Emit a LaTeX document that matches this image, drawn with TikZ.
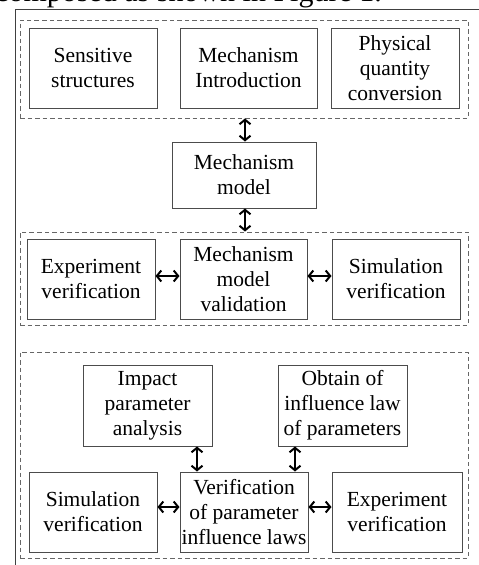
\documentclass[tikz,border=0pt]{standalone}
\usepackage{fontspec}
\setmainfont{Liberation Serif}
\usetikzlibrary{arrows.meta}
\begin{document}
\begin{tikzpicture}[x=1pt,y=-1pt,
  box/.style={draw=black!70, line width=1pt, align=center, inner sep=0pt,
    font=\fontsize{21.5}{25}\selectfont},
  group/.style={draw=black!60, dash pattern=on 4.5pt off 3pt, line width=0.9pt, inner sep=0pt},
  link/.style={line width=2pt, {Straight Barb[length=4.5pt,width=11pt]}-{Straight Barb[length=4.5pt,width=11pt]}},
  frame/.style={draw=black!75, line width=1pt}]
\useasboundingbox (0,0) rectangle (479,565);
\clip (0,0) rectangle (479,565);
% cropped caption line
\node[anchor=south west, inner sep=0pt, font=\fontsize{30}{32}\selectfont] (cap) at (-5,11.5) {\strut composed as shown in Figure 1.};
% outer frame
\coordinate (fa) at (15,565);
\coordinate (fb) at (15,9);
\coordinate (fc) at (479,9);
\draw[frame] (fa) -- (fb) -- (fc);
% group 1
\node[group, minimum width=448, minimum height=98] (g1) at (244,69) {};
\node[box, minimum width=128, minimum height=80] (sens) at (93,68) {Sensitive\\structures};
\node[box, minimum width=137, minimum height=80] (intro) at (248.5,68) {Mechanism\\Introduction};
\node[box, minimum width=128, minimum height=80] (phys) at (395,68) {Physical\\quantity\\conversion};
% mechanism model
\node[box, minimum width=144, minimum height=66] (mm) at (244,175) {Mechanism\\model};
% group 2
\node[group, minimum width=448, minimum height=93] (g2) at (244,278.5) {};
\node[box, minimum width=128, minimum height=80] (exp1) at (91,279) {Experiment\\verification};
\node[box, minimum width=127, minimum height=80] (mmv) at (243.5,279) {Mechanism\\model\\validation};
\node[box, minimum width=128, minimum height=80] (sim1) at (396,279) {Simulation\\verification};
% group 3
\node[group, minimum width=448, minimum height=206] (g3) at (244,455) {};
\node[box, minimum width=129, minimum height=81] (imp) at (147.5,405.5) {Impact\\parameter\\analysis};
\node[box, minimum width=129, minimum height=81] (obt) at (342.5,405.5) {Obtain of\\influence law\\of parameters};
\node[box, minimum width=128, minimum height=80] (sim2) at (93,512) {Simulation\\verification};
\node[box, minimum width=128, minimum height=80] (vpi) at (244,512) {Verification\\of parameter\\influence laws};
\node[box, minimum width=130, minimum height=80] (exp2) at (397,512) {Experiment\\verification};
% connectors
\draw[link] ([xshift=1pt]mm.north) -- ([xshift=1pt]mm.north |- g1.south);
\draw[link] ([xshift=1pt]mm.south) -- ([xshift=1pt]mm.south |- g2.north);
\draw[link] ([yshift=3pt]exp1.east) -- ([yshift=3pt]exp1.east -| mmv.west);
\draw[link] ([yshift=3pt]mmv.east) -- ([yshift=3pt]mmv.east -| sim1.west);
\draw[link] ([xshift=-47pt]vpi.north) -- ([xshift=-47pt]vpi.north |- imp.south);
\draw[link] ([xshift=51pt]vpi.north) -- ([xshift=51pt]vpi.north |- obt.south);
\draw[link] ([yshift=5pt]sim2.east) -- ([yshift=5pt]sim2.east -| vpi.west);
\draw[link] ([yshift=5pt]vpi.east) -- ([yshift=5pt]vpi.east -| exp2.west);
\end{tikzpicture}
\end{document}
